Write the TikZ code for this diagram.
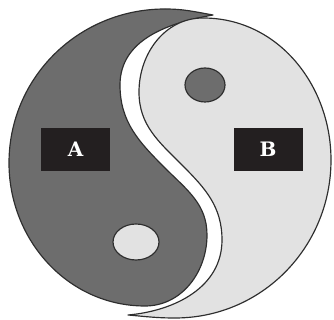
\documentclass[tikz,border=0pt]{standalone}
\usepackage{fontspec}
\newfontfamily\labelfont{DejaVu Serif}
\definecolor{darkpart}{HTML}{6D6D6D}
\definecolor{lightpart}{HTML}{E2E2E2}
\definecolor{edge}{HTML}{2E2E2E}
\definecolor{boxfill}{HTML}{231F20}
\begin{document}
\begin{tikzpicture}[x=0.03cm,y=0.03cm,
  partline/.style={draw=edge,line width=1pt,line join=round},
  labelbox/.style={fill=boxfill,minimum width=2.07cm,minimum height=1.29cm,inner sep=0pt,
    text=white,font=\labelfont\bfseries\fontsize{17}{20}\selectfont}]
\useasboundingbox (0,0) rectangle (334,320);
% dark part (left, tail at top)
\path[partline,fill=darkpart] (213,305) to[out=170,in=0] (165,311)
  to[out=180,in=90] (9,157) to[out=-90,in=180] (145,14)
  to[out=0,in=-90] (207,85) to[out=90,in=-45] (165,152)
  to[out=135,in=-90] (120,235) to[out=90,in=190] (213,305) -- cycle;
% light part (right, tail at bottom)
\path[partline,fill=lightpart] (128,5) to[out=-5,in=180] (175,2)
  to[out=0,in=-90] (331,160) to[out=90,in=0] (203,302)
  to[out=180,in=90] (139,228) to[out=-90,in=135] (182,155)
  to[out=-45,in=90] (222,80) to[out=-90,in=5] (128,5) -- cycle;
% dots
\draw[partline,fill=darkpart] (205,235) ellipse [x radius=20,y radius=17];
\draw[partline,fill=lightpart] (136,78) ellipse [x radius=23,y radius=18];
% labels
\node[labelbox] (A) at (75.5,170.5) {A};
\node[labelbox] (B) at (268,170.5) {B};
\end{tikzpicture}
\end{document}
